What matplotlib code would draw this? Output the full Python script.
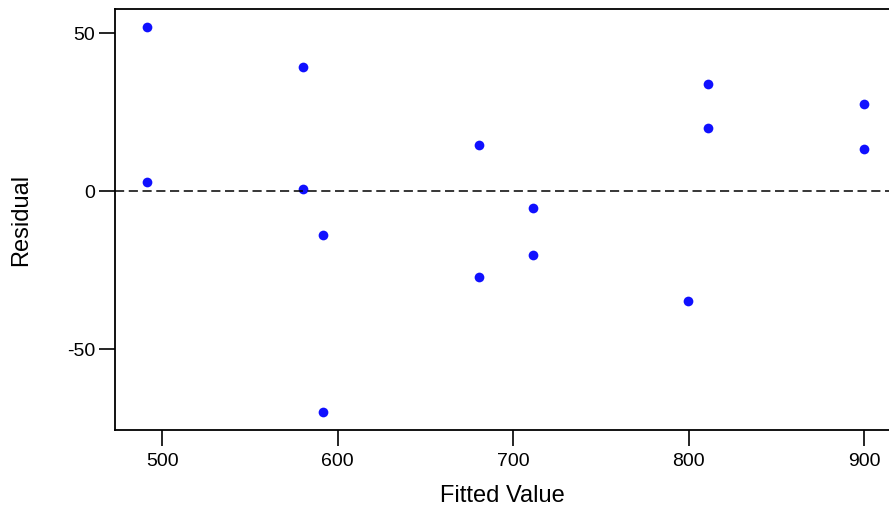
import matplotlib.pyplot as plt
import numpy as np

plt.rcParams['font.family'] = ['Liberation Sans', 'DejaVu Sans']

fitted = [491.5, 491.5, 580.3, 580.3, 591.7, 591.7, 680.6, 680.6,
          711.4, 711.4, 799.4, 811.1, 811.1, 900.0, 900.0]
residual = [51.9, 2.8, 39.2, 0.6, -13.9, -69.9, 14.6, -27.2,
            -5.4, -20.3, -34.8, 33.9, 19.9, 27.5, 13.3]

fig = plt.figure(figsize=(8.89, 5.14), dpi=100)
ax = fig.add_axes([0.1294, 0.1634, 0.8706, 0.8191])

ax.plot(fitted, residual, 'o', color='#1010ff', markersize=7, markeredgewidth=0)
ax.axhline(0, color='black', linestyle=(0, (6, 3)), linewidth=1.1)

ax.set_xlim(473.2, 914.2)
ax.set_ylim(-75.6, 57.6)
ax.set_xticks([500, 600, 700, 800, 900])
ax.set_yticks([-50, 0, 50])
ax.set_yticklabels(['-50', '0', '50'])

ax.spines['right'].set_visible(False)
for s in ['left', 'bottom', 'top']:
    ax.spines[s].set_linewidth(1.3)
ax.tick_params(axis='both', direction='out', length=11.5, width=1.2,
               labelsize=14)
ax.tick_params(axis='x', pad=5)
ax.tick_params(axis='y', pad=3)

ax.set_xlabel('Fitted Value', fontsize=17, labelpad=11)
ax.set_ylabel('Residual', fontsize=17, labelpad=25)

fig.savefig('out.png', dpi=100)
